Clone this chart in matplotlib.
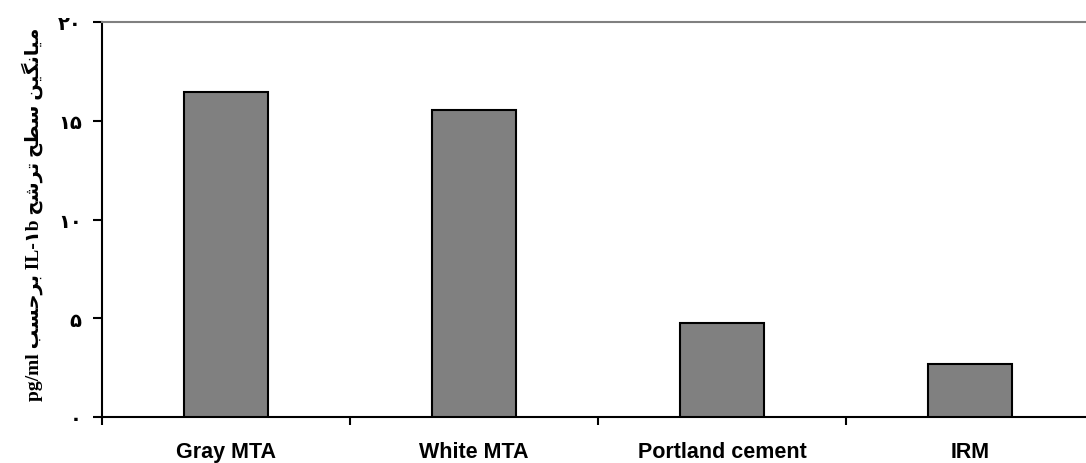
import matplotlib
matplotlib.use("Agg")
import matplotlib.pyplot as plt
import numpy as np

categories = ["Gray MTA", "White MTA", "Portland cement", "IRM"]
values = [16.45, 15.55, 4.75, 2.7]
yticks = [0, 5, 10, 15, 20]
ytick_labels = ["\u06f0", "\u06f5", "\u06f1\u06f0", "\u06f1\u06f5", "\u06f2\u06f0"]

# y label in visual order with Arabic presentation forms (matplotlib has no bidi shaping)
w_barhasab = "\ufe90\ufeb4\ufea3\ufeae\ufe91"
w_tarashoh = "\ufea2\ufeb7\ufeae\ufe97"
w_sath = "\ufea2\ufec4\ufeb3"
w_miangin = "\ufee6\ufbff\ufb95\ufee7\ufe8e\ufbff\ufee3"
ylabel = "pg/ml " + w_barhasab + " IL-\u06f1b " + w_tarashoh + " " + w_sath + " " + w_miangin

fig = plt.figure(figsize=(10.86, 4.64), dpi=100)
ax = fig.add_axes([102 / 1086, 1 - 418 / 464, 992 / 1086, 395 / 464])

x = np.arange(len(categories))
ax.bar(x, values, width=0.335, color="#808080", edgecolor="black", linewidth=1.5, zorder=3)

ax.set_xlim(-0.5, 3.5)
ax.set_ylim(0, 20)
ax.set_yticks(yticks)
ax.set_yticklabels(ytick_labels, fontsize=14, fontweight="bold", family=["DejaVu Sans"])
ax.set_xticks(np.arange(-0.5, 4.0, 1.0))
ax.set_xticklabels([])
ax.set_xticks(x, minor=True)
ax.set_xticklabels(categories, minor=True, fontsize=15.5, fontweight="bold",
                   family=["Liberation Sans"])
ax.tick_params(axis="x", which="minor", length=0, pad=17)
ax.tick_params(axis="x", which="major", length=6, width=1.5, direction="out")
ax.tick_params(axis="y", length=6.5, width=1.5, direction="out", pad=8)

for s in ["left", "bottom"]:
    ax.spines[s].set_linewidth(1.5)
    ax.spines[s].set_color("black")
ax.spines["right"].set_visible(False)
ax.spines["top"].set_color("#808080")
ax.spines["top"].set_linewidth(1.5)

ax.set_ylabel(ylabel, fontsize=14, fontweight="bold",
              family=["Liberation Serif", "DejaVu Sans"])
ax.yaxis.set_label_coords(-0.0595, 0.515)

fig.savefig("out.png", dpi=100)
